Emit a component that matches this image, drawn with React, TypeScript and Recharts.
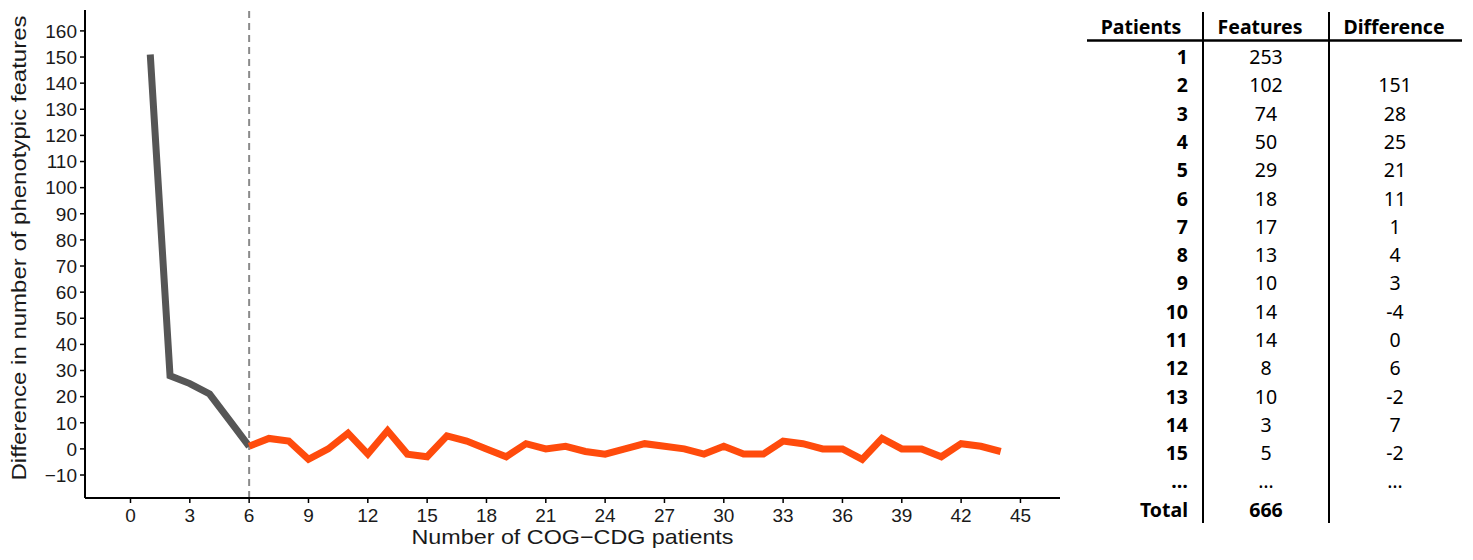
import { LineChart, Line, XAxis, YAxis, ReferenceLine } from "recharts";

// difference in number of phenotypic features, plotted against patient count
const diffs = [
  151, 28, 25, 21, 11, 1, 4, 3, -4, 0, 6, -2, 7, -2, -3, 5, 3, 0, -3, 2, 0, 1,
  -1, -2, 0, 2, 1, 0, -2, 1, -2, -2, 3, 2, 0, 0, -4, 4, 0, 0, -3, 2, 1, -1,
];
const cutoff = 6;
const xTicks = [0, 3, 6, 9, 12, 15, 18, 21, 24, 27, 30, 33, 36, 39, 42, 45];
const yTicks = [-10, 0, 10, 20, 30, 40, 50, 60, 70, 80, 90, 100, 110, 120, 130, 140, 150, 160];

// table on the right
const tablePatients = ["1", "2", "3", "4", "5", "6", "7", "8", "9", "10", "11", "12", "13", "14", "15"];
const tableFeatures = ["253", "102", "74", "50", "29", "18", "17", "13", "10", "14", "14", "8", "10", "3", "5"];
const tableDiffs = ["", "151", "28", "25", "21", "11", "1", "4", "3", "-4", "0", "6", "-2", "7", "-2"];
const totalFeatures = "666";

const rows = diffs.map((d, i) => ({
  n: i + 1,
  early: i + 1 <= cutoff ? d : null,
  late: i + 1 >= cutoff ? d : null,
}));

const AXIS_FONT = "'Liberation Sans', Arial, sans-serif";
const TABLE_FONT = "'Noto Sans', 'Open Sans', sans-serif";

const minus = (v: number) => String(v).replace("-", "\u2212");

function XLabel(props: any) {
  const vb = props.viewBox || {};
  const cx = vb.x + vb.width / 2;
  return (
    <text x={cx} y={544} textAnchor="middle" fontSize={21} fill="#1a1a1a" fontFamily={AXIS_FONT}
      textLength={322} lengthAdjust="spacingAndGlyphs">
      Number of COG−CDG patients
    </text>
  );
}

function YLabel() {
  const cx = 26;
  const cy = 248;
  return (
    <text x={cx} y={cy} transform={`rotate(-90 ${cx} ${cy})`} textAnchor="middle" fontSize={21}
      fill="#1a1a1a" fontFamily={AXIS_FONT} textLength={465} lengthAdjust="spacingAndGlyphs">
      Difference in number of phenotypic features
    </text>
  );
}

function FeatureTable() {
  const rowY = (i: number) => 64 + i * 28.3;
  const txt = { fontFamily: TABLE_FONT, fontSize: 19.5, fill: "#000" };
  return (
    <svg width={393} height={560} style={{ position: "absolute", left: 1080, top: 0 }}>
      <text x={61} y={34} textAnchor="middle" fontWeight={700} {...txt}>Patients</text>
      <text x={180} y={34} textAnchor="middle" fontWeight={700} {...txt}>Features</text>
      <text x={314} y={34} textAnchor="middle" fontWeight={700} {...txt}>Difference</text>
      <line x1={7} x2={382} y1={40.5} y2={40.5} stroke="#000" strokeWidth={2.5} />
      <line x1={123} x2={123} y1={12} y2={523} stroke="#000" strokeWidth={2} />
      <line x1={249} x2={249} y1={12} y2={523} stroke="#000" strokeWidth={2} />
      {tablePatients.map((p, i) => (
        <g key={p}>
          <text x={108} y={rowY(i)} textAnchor="end" fontWeight={700} {...txt}>{p}</text>
          <text x={186} y={rowY(i)} textAnchor="middle" {...txt}>{tableFeatures[i]}</text>
          <text x={315} y={rowY(i)} textAnchor="middle" {...txt}>{tableDiffs[i]}</text>
        </g>
      ))}
      <text x={108} y={488} textAnchor="end" fontWeight={700} {...txt}>…</text>
      <text x={186} y={488} textAnchor="middle" {...txt}>…</text>
      <text x={315} y={488} textAnchor="middle" {...txt}>…</text>
      <text x={108} y={517} textAnchor="end" fontWeight={700} {...txt}>Total</text>
      <text x={186} y={517} textAnchor="middle" fontWeight={700} {...txt}>{totalFeatures}</text>
    </svg>
  );
}

export default function App() {
  return (
    <div style={{ position: "absolute", left: 0, top: 0, width: 1473, height: 560, background: "#fff" }}>
      <LineChart width={1080} height={560} data={rows} margin={{ top: 10, right: 20, bottom: 12, left: 0 }}>
        <XAxis
          type="number"
          dataKey="n"
          domain={[-2.3, 47]}
          ticks={xTicks}
          allowDataOverflow
          interval={0}
          height={50}
          tickSize={5}
          tickMargin={6}
          tick={{ fill: "#1a1a1a", fontSize: 19, fontFamily: AXIS_FONT }}
          axisLine={{ stroke: "#000", strokeWidth: 2 }}
          tickLine={{ stroke: "#000", strokeWidth: 1.5 }}
          label={{ content: <XLabel /> }}
        />
        <YAxis
          type="number"
          domain={[-18.8, 168]}
          ticks={yTicks}
          allowDataOverflow
          interval={0}
          width={85}
          tickSize={5}
          tickMargin={3}
          tickFormatter={minus}
          tick={{ fill: "#1a1a1a", fontSize: 19, fontFamily: AXIS_FONT }}
          axisLine={{ stroke: "#000", strokeWidth: 2 }}
          tickLine={{ stroke: "#000", strokeWidth: 1.5 }}
          label={{ content: <YLabel /> }}
        />
        <ReferenceLine x={cutoff} stroke="#8a8a8a" strokeWidth={2} strokeDasharray="7 5" />
        <Line dataKey="early" stroke="#565656" strokeWidth={7} dot={false} activeDot={false} isAnimationActive={false} />
        <Line dataKey="late" stroke="#ff4b0c" strokeWidth={7} dot={false} activeDot={false} isAnimationActive={false} />
      </LineChart>
      <FeatureTable />
    </div>
  );
}
